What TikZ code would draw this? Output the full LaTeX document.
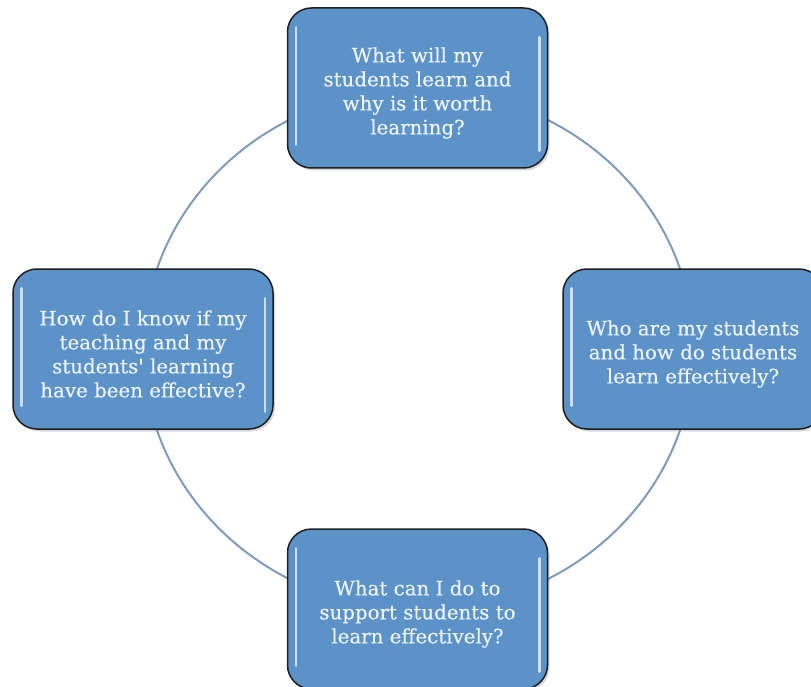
\documentclass[tikz,border=0pt]{standalone}
\usepackage{fontspec}
\setmainfont{DejaVu Serif}
\newfontfamily\qfont{DejaVu Serif}[FakeBold=0.3]
\usetikzlibrary{shadows}
\definecolor{boxblue}{RGB}{91,146,200}
\definecolor{ringc}{RGB}{124,155,190}
\definecolor{boxedge}{RGB}{30,30,30}
\definecolor{txtc}{RGB}{240,244,250}
\begin{document}
\begin{tikzpicture}[x=1pt,y=-1pt,
  qbox/.style={fill=boxblue, draw=boxedge, line width=1.5pt, rounded corners=24pt,
    minimum width=260pt, minimum height=160pt, inner sep=0pt,
    drop shadow={opacity=0.3, shadow xshift=2pt, shadow yshift=-2.5pt}},
  qtext/.style={align=center, text=txtc, yshift=-5pt, inner sep=0pt,
    font=\qfont\fontsize{19.8}{24}\selectfont},
  ring/.style={draw=ringc, line width=2pt},
  shine/.style={draw=white, line width=2.5pt, opacity=0.7, line cap=round}]
\useasboundingbox (0,0) rectangle (811,687);
\clip (0,0) rectangle (811,687);
\draw[ring] (418.5,349.5) ellipse [x radius=275pt, y radius=260pt];
\node[qbox, label={[qtext]center:{What will my\\students learn and\\why is it worth\\learning?}}] (ntop) at (417.5,88) {};
\node[qbox, label={[qtext]center:{How do I know if my\\teaching and my\\students\textquotesingle\ learning\\have been effective?}}] (nleft) at (143,349) {};
\node[qbox, label={[qtext]center:{Who are my students\\and how do students\\learn effectively?}}] (nright) at (693,349) {};
\node[qbox, label={[qtext]center:{What can I do to\\support students to\\learn effectively?}}] (nbottom) at (417.5,609) {};
\foreach \n in {ntop,nleft,nright,nbottom}{
  \draw[shine] ([xshift=9pt,yshift=-20pt]\n.north west) -- ([xshift=9pt,yshift=24pt]\n.south west);
  \draw[shine] ([xshift=-9pt,yshift=-30pt]\n.north east) -- ([xshift=-9pt,yshift=18pt]\n.south east);
}
\end{tikzpicture}
\end{document}
